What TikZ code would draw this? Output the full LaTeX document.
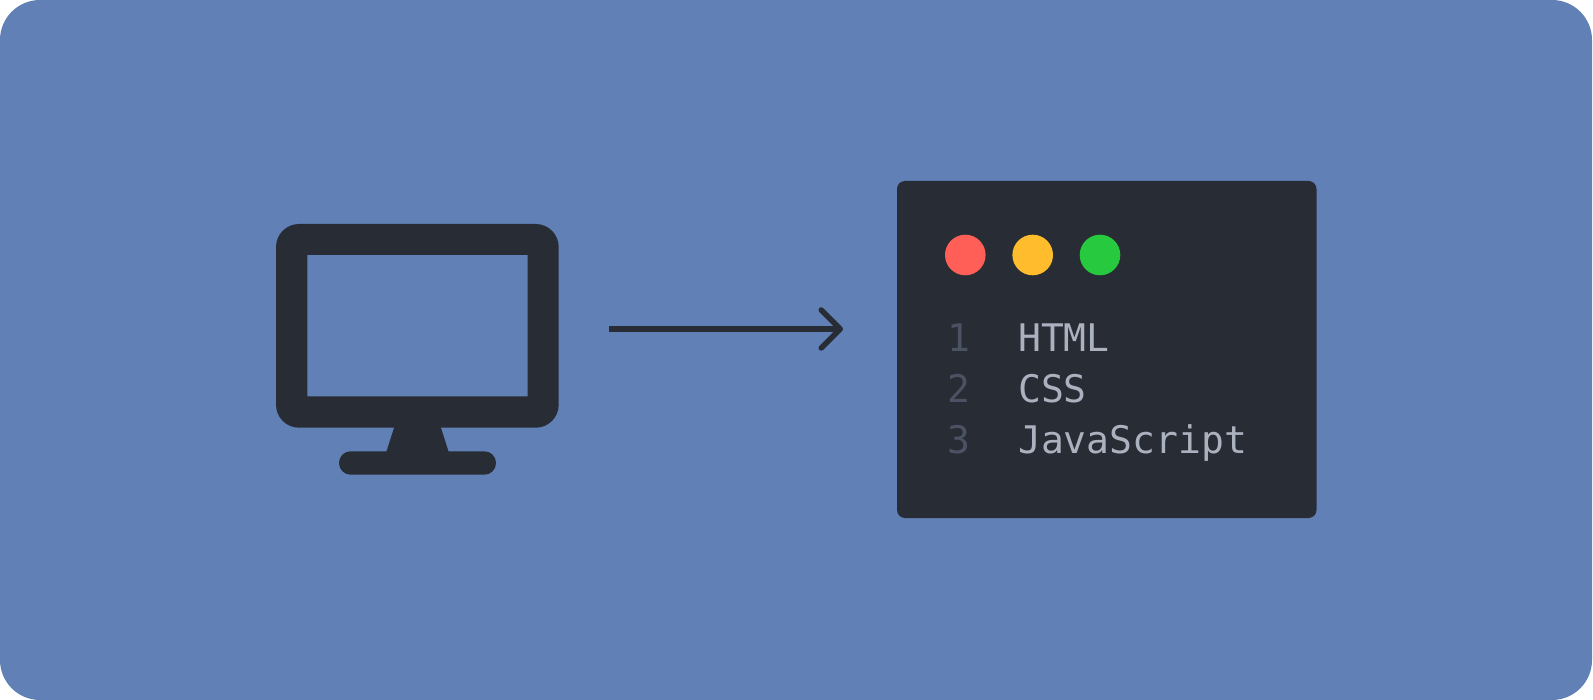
\documentclass[tikz,border=0pt]{standalone}
\usepackage{fontspec}
\usetikzlibrary{arrows.meta}
\newfontfamily\codefont{DejaVu Sans Mono}
\definecolor{bgblue}{HTML}{6080B6}
\definecolor{ink}{HTML}{282C34}
\definecolor{codetext}{HTML}{ABB2BF}
\definecolor{linenum}{HTML}{4B5263}
\definecolor{dotred}{HTML}{FF5F56}
\definecolor{dotyellow}{HTML}{FFBD2E}
\definecolor{dotgreen}{HTML}{27C93F}
\tikzset{
  dot/.style={circle,inner sep=0pt,minimum size=40.6pt,fill=#1},
  codeline/.style={anchor=base west,inner sep=0pt,text=codetext,font=\codefont\fontsize{38}{38}\selectfont},
  numline/.style={anchor=base,inner sep=0pt,text=linenum,font=\codefont\fontsize{38}{38}\selectfont},
  connector/.style={draw=ink,line width=6pt,-{Straight Barb[length=19pt,width=38pt,line width=5.5pt,round]}}
}
\begin{document}
\begin{tikzpicture}[x=1pt,y=-1pt]
\useasboundingbox (0,0) rectangle (1593,700);
\fill[white] (0,0) rectangle (1593,700);
\fill[bgblue,rounded corners=40pt] (0,0) rectangle (1592,700);
% monitor
\fill[ink,even odd rule] [rounded corners=23pt] (276,224) rectangle (558.7,427.7)
  [sharp corners] (307.3,255) rectangle (527.7,396.3);
\fill[ink] (394.7,425.7) -- (440.3,425.7) -- (448.7,452) -- (386.3,452) -- cycle;
\fill[ink,rounded corners=11.6pt] (339,451.3) rectangle (496,474.7);
\coordinate (arrowstart) at (609,329);
\coordinate (arrowtip) at (843,329);
\draw[connector] (arrowstart) -- (arrowtip);
% code window
\node[fill=ink,rounded corners=8pt,minimum width=419.5pt,minimum height=337pt,inner sep=0pt] (window) at (1106.75,349.5) {};
\node[dot=dotred] (red) at (965.3,255) {};
\node[dot=dotyellow] (yellow) at (1032.7,255) {};
\node[dot=dotgreen] (green) at (1100,255) {};
\node[numline] (n1) at (959,351.7) {1};
\node[numline] (n2) at (959,402.7) {2};
\node[numline] (n3) at (959,453.3) {3};
\node[codeline] (t1) at (1018,351.7) {HTML};
\node[codeline] (t2) at (1018,402.7) {CSS};
\node[codeline] (t3) at (1018,453.3) {JavaScript};
\end{tikzpicture}
\end{document}
